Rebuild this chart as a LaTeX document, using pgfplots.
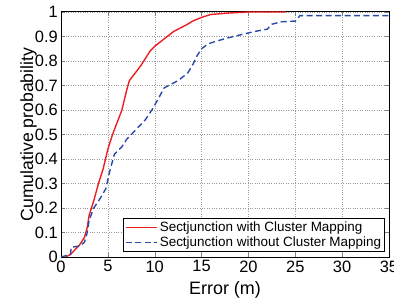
\documentclass[border=0pt]{standalone}
\usepackage{fontspec}
\setmainfont{Liberation Sans}
\usepackage{pgfplots}
\pgfplotsset{compat=1.18}
\definecolor{myred}{RGB}{235,30,35}
\definecolor{myblue}{RGB}{40,75,170}
\begin{document}
\begin{tikzpicture}
\begin{axis}[
  name=ax,
  scale only axis, width=328bp, height=245bp,
  xmin=0, xmax=35, ymin=0, ymax=1,
  xtick={0,5,...,35}, ytick={0,0.1,...,1},
  yticklabels={0,0.1,0.2,0.3,0.4,0.5,0.6,0.7,0.8,0.9,1},
  /pgf/number format/assume math mode=true,
  tick label style={font=\fontsize{16.5}{18}\selectfont},
  xticklabel style={inner sep=3.5pt},
  yticklabel style={inner sep=3pt},
  xlabel style={font=\fontsize{18}{20}\selectfont, inner sep=0pt, at={(axis description cs:0.5,-0.1)}, anchor=north},
  ylabel style={font=\fontsize{17.7}{20}\selectfont, inner sep=0pt, at={(axis description cs:-0.073,0.5)}, anchor=south},
  xlabel={Error (m)}, ylabel={Cumulative probability},
  tick align=inside, tick pos=both, major tick length=4pt,
  axis line style={line width=1pt},
  grid=major, major grid style={dotted, gray!80},
  legend style={font=\fontsize{13.5}{15}\selectfont, draw=black, line width=0.8pt, inner sep=1.5pt, row sep=0pt, at={(1,0)}, anchor=south east, xshift=-4bp, yshift=5bp,
    nodes={inner sep=2pt}},
  legend image code/.code={\draw[#1, line width=1.4pt] (0cm,0cm) -- (1.1cm,0cm);},
  legend cell align=left,
]
\addplot[myred, line width=1.4pt] coordinates {
(0.5,0) (1,0.01) (1.5,0.03) (2,0.05) (2.5,0.08) (2.8,0.12) (3,0.17) (3.5,0.23) (4,0.3) (4.5,0.36) (5,0.44) (5.5,0.5) (6,0.55) (6.5,0.6) (7,0.68) (7.3,0.72) (7.8,0.745) (8.5,0.78) (9,0.81) (9.5,0.84) (10,0.86) (10.5,0.875) (11,0.89) (11.5,0.905) (12,0.92) (12.5,0.93) (13,0.94) (13.5,0.95) (14,0.962) (15,0.978) (16,0.99) (18,0.996) (20,1) (24,1)
};
\addlegendentry{Sectjunction with Cluster Mapping}
\addplot[myblue, line width=1.4pt, dash pattern=on 6pt off 3.5pt] coordinates {
(0,0) (1,0.01) (1.1,0.04) (2,0.045) (2.5,0.06) (2.8,0.1) (3,0.15) (3.5,0.2) (4.2,0.24) (4.8,0.28) (5.2,0.35) (5.7,0.42) (6.5,0.45) (7,0.48) (7.5,0.5) (8,0.52) (8.5,0.54) (9,0.56) (9.7,0.6) (10.3,0.64) (11,0.69) (11.5,0.70) (12.5,0.72) (13.5,0.75) (14,0.78) (14.5,0.82) (15,0.85) (15.7,0.87) (16.5,0.88) (17.4,0.89) (18.4,0.9) (19.5,0.91) (20.6,0.92) (22,0.93) (22.5,0.95) (23.5,0.96) (25,0.963) (25.5,0.985) (35,0.985)
};
\addlegendentry{Sectjunction without Cluster Mapping}
\end{axis}
\pgfresetboundingbox
\path ([xshift=-61bp,yshift=-42bp]ax.south west) rectangle ([xshift=5bp,yshift=12bp]ax.north east);
\end{tikzpicture}
\end{document}
